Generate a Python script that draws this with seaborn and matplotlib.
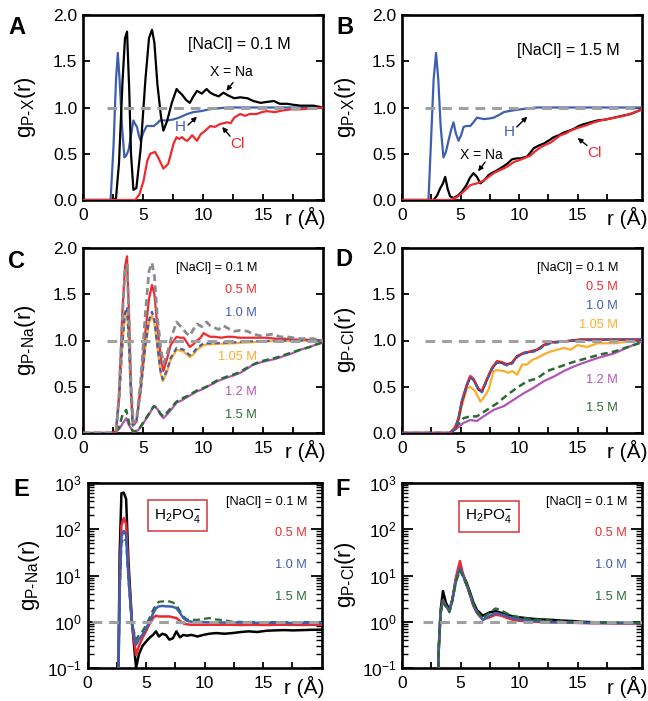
import numpy as np
import pandas as pd
import matplotlib
matplotlib.use("Agg")
import matplotlib.pyplot as plt
import seaborn as sns
from matplotlib.ticker import FixedLocator, LogLocator, NullFormatter, FormatStrFormatter

# ---------------- data ----------------
# Panel A  ([NaCl] = 0.1 M)
A_na_r = [0, 2.5, 2.75, 3.0, 3.3, 3.5, 3.67, 3.85, 4.0, 4.2, 4.45, 4.8, 5.2, 5.5, 5.75, 5.95, 6.2, 6.5, 6.7, 7.0, 7.4, 7.8, 8.0, 8.25, 8.6, 8.9, 9.2, 9.5, 9.9, 10.3, 10.6, 10.9, 11.3, 11.7, 12.1, 12.6, 13.1, 13.7, 14.2, 14.8, 15.3, 15.9, 16.4, 17.0, 17.5, 18.1, 18.6, 19.2, 20]
A_na_g = [0, 0, 0.02, 0.4, 1.3, 1.75, 1.82, 1.2, 0.5, 0.11, 0.13, 0.55, 1.3, 1.75, 1.84, 1.7, 1.25, 0.9, 0.75, 0.85, 1.05, 1.2, 1.17, 1.14, 1.08, 1.05, 1.12, 1.18, 1.15, 1.2, 1.16, 1.14, 1.12, 1.16, 1.13, 1.1, 1.11, 1.1, 1.07, 1.05, 1.06, 1.07, 1.04, 1.04, 1.03, 1.02, 1.02, 1.02, 1.0]
A_h_r = [0, 2.3, 2.55, 2.75, 2.9, 3.05, 3.25, 3.45, 3.6, 3.8, 4.0, 4.2, 4.35, 4.5, 4.65, 4.8, 5.0, 5.3, 5.6, 5.9, 6.2, 6.4, 7.0, 7.5, 8.0, 8.7, 9.2, 9.8, 10.5, 11.2, 12.0, 13.0, 20]
A_h_g = [0, 0, 0.6, 1.3, 1.59, 1.3, 0.8, 0.46, 0.48, 0.54, 0.7, 0.86, 0.82, 0.79, 0.7, 0.64, 0.72, 0.80, 0.80, 0.80, 0.83, 0.86, 0.86, 0.87, 0.89, 0.93, 0.95, 0.96, 0.98, 0.99, 1.0, 1.0, 1.0]
A_cl_r = [0, 4.35, 4.7, 5.05, 5.35, 5.6, 6.0, 6.3, 6.7, 7.1, 7.55, 7.8, 8.0, 8.25, 8.5, 8.7, 9.1, 9.5, 9.8, 10.2, 10.6, 11.0, 11.4, 12.0, 12.3, 12.6, 13.1, 13.5, 13.9, 14.5, 14.9, 15.3, 16.0, 16.7, 17.4, 18.1, 19.0, 20]
A_cl_g = [0, 0, 0.06, 0.21, 0.42, 0.5, 0.52, 0.45, 0.34, 0.39, 0.61, 0.68, 0.66, 0.68, 0.65, 0.64, 0.7, 0.64, 0.71, 0.75, 0.8, 0.79, 0.82, 0.84, 0.83, 0.89, 0.93, 0.91, 0.93, 0.93, 0.95, 0.96, 0.95, 0.97, 0.98, 0.98, 0.99, 1.0]

# Panel B  ([NaCl] = 1.5 M)
B_h_r = [0, 2.26, 2.5, 2.7, 2.91, 3.1, 3.3, 3.54, 3.75, 3.97, 4.2, 4.4, 4.6, 4.83, 5.05, 5.26, 5.5, 5.83, 6.1, 6.4, 6.97, 7.4, 7.83, 8.3, 8.69, 9.1, 9.54, 10.1, 10.69, 11.5, 12.4, 20.5]
B_h_g = [0, 0, 0.7, 1.3, 1.59, 1.3, 0.8, 0.46, 0.52, 0.64, 0.76, 0.84, 0.72, 0.64, 0.70, 0.79, 0.80, 0.80, 0.84, 0.89, 0.875, 0.88, 0.89, 0.92, 0.95, 0.96, 0.97, 0.98, 0.99, 1.0, 1.0, 1.0]
B_na_r = [0, 2.7, 3.0, 3.26, 3.5, 3.69, 3.9, 4.11, 4.4, 4.8, 5.11, 5.5, 5.8, 6.11, 6.4, 6.69, 7.0, 7.4, 7.8, 8.11, 8.5, 8.97, 9.4, 9.8, 10.11, 10.69, 11.26, 11.7, 12.11, 12.5, 12.97, 13.4, 13.83, 14.3, 14.69, 15.1, 15.54, 16.1, 16.69, 17.4, 18.11, 18.8, 19.54, 20.5]
B_na_g = [0, 0, 0.05, 0.125, 0.18, 0.25, 0.12, 0.04, 0.02, 0.05, 0.09, 0.16, 0.24, 0.29, 0.25, 0.18, 0.21, 0.27, 0.30, 0.32, 0.35, 0.39, 0.44, 0.45, 0.45, 0.47, 0.56, 0.59, 0.61, 0.64, 0.68, 0.70, 0.73, 0.75, 0.77, 0.80, 0.82, 0.84, 0.86, 0.87, 0.89, 0.91, 0.93, 0.98]
B_cl_r = [0, 4.11, 4.69, 5.26, 5.83, 6.1, 6.4, 6.97, 7.4, 7.83, 8.3, 8.69, 9.1, 9.54, 10.0, 10.4, 10.97, 11.4, 11.83, 12.3, 12.69, 13.1, 13.54, 14.0, 14.4, 14.8, 15.26, 15.8, 16.4, 17.0, 17.54, 18.2, 18.97, 19.7, 20.5]
B_cl_g = [0, 0, 0.03, 0.09, 0.16, 0.17, 0.18, 0.21, 0.25, 0.29, 0.32, 0.34, 0.37, 0.41, 0.43, 0.45, 0.48, 0.53, 0.57, 0.60, 0.62, 0.66, 0.70, 0.72, 0.75, 0.77, 0.79, 0.81, 0.84, 0.86, 0.875, 0.89, 0.91, 0.94, 0.98]

# Panel C  (g_P-Na vs [NaCl])
C_05_r = [0, 2.5, 2.75, 3.0, 3.3, 3.5, 3.67, 3.85, 4.0, 4.15, 4.45, 4.8, 5.2, 5.5, 5.75, 5.95, 6.2, 6.5, 6.7, 7.0, 7.3, 7.8, 8.1, 8.4, 8.65, 8.9, 9.2, 9.5, 9.8, 10.05, 10.3, 10.6, 11.0, 11.5, 12.0, 12.5, 13.0, 13.7, 14.5, 15.3, 16.0, 16.7, 17.5, 18.5, 20]
C_05_g = [0, 0, 0.02, 0.4, 1.35, 1.8, 1.91, 1.2, 0.5, 0.09, 0.12, 0.5, 1.1, 1.45, 1.60, 1.5, 1.15, 0.8, 0.67, 0.8, 0.95, 1.04, 1.03, 1.03, 0.98, 0.93, 0.96, 1.0, 1.03, 1.08, 1.06, 1.04, 1.04, 1.03, 1.04, 1.04, 1.03, 1.03, 1.03, 1.03, 1.02, 1.02, 1.01, 1.01, 1.0]
C_10_r = [0, 2.5, 2.75, 3.0, 3.3, 3.5, 3.67, 3.85, 4.0, 4.15, 4.45, 4.8, 5.2, 5.5, 5.75, 5.95, 6.2, 6.45, 6.65, 7.0, 7.3, 7.8, 8.1, 8.4, 8.65, 8.9, 9.2, 9.5, 10.05, 10.5, 10.9, 11.5, 12.5, 13.9, 15.0, 17.0, 20]
C_10_g = [0, 0, 0.02, 0.35, 1.0, 1.3, 1.36, 0.9, 0.4, 0.08, 0.12, 0.45, 0.95, 1.22, 1.31, 1.22, 0.95, 0.68, 0.58, 0.68, 0.81, 0.92, 0.91, 0.90, 0.87, 0.84, 0.87, 0.92, 0.97, 0.97, 0.97, 0.975, 0.98, 0.99, 0.995, 1.0, 1.0]
C_105_g = [0, 0, 0.02, 0.34, 0.98, 1.28, 1.34, 0.88, 0.39, 0.08, 0.12, 0.44, 0.93, 1.19, 1.27, 1.19, 0.92, 0.66, 0.56, 0.66, 0.79, 0.90, 0.89, 0.88, 0.85, 0.82, 0.85, 0.90, 0.95, 0.96, 0.96, 0.965, 0.97, 0.98, 0.99, 0.995, 1.0]
C_12_r = [0, 2.6, 3.0, 3.3, 3.6, 3.85, 4.2, 4.6, 5.0, 5.5, 5.9, 6.2, 6.45, 6.7, 7.0, 7.4, 7.8, 8.2, 8.7, 9.1, 9.5, 9.9, 10.3, 10.8, 11.2, 11.6, 12.0, 12.5, 13.1, 13.6, 14.2, 14.7, 15.3, 16.0, 16.7, 17.4, 18.1, 18.9, 19.5, 20]
C_12_g = [0, 0, 0.04, 0.1, 0.16, 0.08, 0.01, 0.03, 0.1, 0.2, 0.29, 0.26, 0.2, 0.16, 0.2, 0.26, 0.33, 0.35, 0.39, 0.42, 0.45, 0.47, 0.5, 0.53, 0.56, 0.58, 0.6, 0.62, 0.65, 0.69, 0.74, 0.76, 0.78, 0.8, 0.83, 0.86, 0.9, 0.93, 0.96, 0.98]
C_15_g = [0, 0, 0.06, 0.2, 0.25, 0.1, 0.01, 0.03, 0.11, 0.21, 0.29, 0.27, 0.21, 0.18, 0.22, 0.28, 0.34, 0.37, 0.4, 0.43, 0.46, 0.48, 0.5, 0.54, 0.57, 0.59, 0.61, 0.63, 0.66, 0.7, 0.74, 0.77, 0.79, 0.81, 0.84, 0.87, 0.9, 0.93, 0.96, 0.98]

# Panel D  (g_P-Cl vs [NaCl])
D_main_r = [0, 4.11, 4.54, 4.83, 5.11, 5.54, 5.83, 6.11, 6.54, 6.83, 7.26, 7.69, 8.11, 8.54, 8.97, 9.4, 9.83, 10.4, 10.97, 11.54, 12.11, 12.69, 13.83, 15.26, 18.11, 20.5]
D_01_g = [0, 0, 0.05, 0.16, 0.34, 0.52, 0.61, 0.58, 0.47, 0.45, 0.58, 0.70, 0.77, 0.76, 0.74, 0.76, 0.83, 0.865, 0.88, 0.90, 0.95, 0.98, 0.99, 1.01, 1.01, 1.01]
D_05_g = [0, 0, 0.05, 0.17, 0.35, 0.53, 0.62, 0.59, 0.48, 0.46, 0.59, 0.71, 0.78, 0.77, 0.74, 0.76, 0.83, 0.87, 0.88, 0.90, 0.95, 0.98, 0.99, 1.01, 1.01, 1.01]
D_10_g = [0, 0, 0.05, 0.16, 0.33, 0.51, 0.60, 0.57, 0.47, 0.44, 0.57, 0.69, 0.76, 0.75, 0.73, 0.75, 0.82, 0.86, 0.87, 0.89, 0.94, 0.97, 0.99, 1.0, 1.01, 1.01]
D_105_r = [0, 4.11, 4.83, 5.11, 5.54, 5.83, 6.26, 6.69, 6.97, 7.4, 7.83, 8.11, 8.69, 9.11, 9.4, 9.83, 10.26, 10.69, 11.11, 11.54, 12.11, 12.69, 13.26, 13.83, 14.4, 14.97, 15.83, 16.69, 18.11, 19.54, 20.5]
D_105_g = [0, 0, 0.13, 0.29, 0.48, 0.50, 0.45, 0.34, 0.38, 0.47, 0.67, 0.68, 0.67, 0.65, 0.67, 0.63, 0.74, 0.74, 0.79, 0.81, 0.85, 0.88, 0.90, 0.92, 0.90, 0.95, 0.93, 0.97, 0.97, 0.99, 1.01]
D_12_r = [0, 4.11, 4.7, 5.26, 5.83, 6.4, 6.97, 7.83, 8.69, 9.54, 10.4, 11.26, 12.11, 12.97, 13.83, 14.69, 15.54, 16.69, 18.11, 19.54, 20.5]
D_12_g = [0, 0, 0.05, 0.11, 0.14, 0.13, 0.18, 0.25, 0.29, 0.36, 0.43, 0.49, 0.56, 0.61, 0.67, 0.72, 0.76, 0.81, 0.86, 0.94, 0.99]
D_15_r = [0, 4.11, 4.7, 5.26, 5.83, 6.4, 7.26, 8.11, 8.97, 9.83, 10.69, 11.54, 12.4, 13.54, 14.69, 15.83, 16.97, 18.11, 19.54, 20.5]
D_15_g = [0, 0, 0.08, 0.16, 0.18, 0.18, 0.25, 0.32, 0.41, 0.49, 0.56, 0.59, 0.67, 0.72, 0.77, 0.81, 0.85, 0.88, 0.94, 0.98]

# Panel E  (H2PO4-, g_P-Na, log)
E_r = [0, 2.6, 2.75, 2.9, 3.1, 3.3, 3.5, 3.8, 4.15, 4.4, 4.7, 5.0, 5.3, 5.6, 5.85, 6.1, 6.4, 6.7, 7.0, 7.3, 7.6, 7.9, 8.2, 8.5, 8.9, 9.4, 9.9, 10.4, 11.0, 11.7, 12.4, 13.1, 13.8, 14.5, 15.3, 16.0, 16.8, 17.6, 18.4, 19.2, 20]
E_01_g = [0.01, 0.01, 30, 600, 620, 450, 20, 1.0, 0.1, 0.2, 0.3, 0.37, 0.45, 0.52, 0.62, 0.48, 0.55, 0.52, 0.41, 0.44, 0.62, 0.46, 0.52, 0.50, 0.52, 0.48, 0.52, 0.55, 0.57, 0.55, 0.57, 0.6, 0.62, 0.6, 0.64, 0.65, 0.66, 0.65, 0.66, 0.67, 0.67]
E_05_g = [0.01, 0.01, 8, 120, 175, 130, 12, 0.9, 0.19, 0.3, 0.45, 0.62, 0.9, 1.2, 1.35, 1.3, 1.3, 1.3, 1.3, 1.25, 1.2, 1.05, 0.92, 0.88, 0.86, 0.86, 0.86, 0.86, 0.86, 0.86, 0.86, 0.85, 0.86, 0.86, 0.85, 0.86, 0.86, 0.86, 0.85, 0.86, 0.86]
E_10_g = [0.01, 0.01, 5, 70, 92, 75, 9, 0.9, 0.32, 0.42, 0.52, 0.72, 1.0, 1.5, 1.95, 2.15, 2.2, 2.15, 2.15, 2.1, 1.97, 1.55, 1.2, 1.05, 1.0, 1.0, 0.98, 0.97, 0.97, 0.96, 0.96, 0.96, 0.95, 0.95, 0.95, 0.95, 0.94, 0.94, 0.94, 0.94, 0.94]
E_15_g = [0.01, 0.01, 4, 50, 66, 55, 8, 0.9, 0.41, 0.52, 0.62, 0.85, 1.2, 1.8, 2.3, 2.7, 2.75, 2.75, 2.75, 2.6, 2.3, 1.7, 1.3, 1.12, 1.1, 1.1, 1.15, 1.2, 1.12, 1.08, 1.0, 0.99, 0.99, 0.98, 0.98, 0.98, 0.98, 0.98, 0.98, 0.98, 0.98]

# Panel F  (H2PO4-, g_P-Cl, log)
F_r = [0, 3.0, 3.15, 3.3, 3.5, 3.75, 4.05, 4.3, 4.6, 4.95, 5.2, 5.5, 5.83, 6.1, 6.4, 6.9, 7.5, 8.0, 8.5, 9.0, 9.5, 10.0, 10.6, 11.3, 12.0, 12.8, 13.6, 14.5, 15.3, 16.2, 17.2, 18.5, 20.5]
F_01_g = [0.01, 0.01, 0.3, 1.8, 4.6, 2.6, 1.8, 3.0, 8.0, 15.5, 10.5, 7.2, 4.2, 2.6, 1.8, 1.35, 1.6, 1.7, 1.55, 1.4, 1.3, 1.25, 1.2, 1.15, 1.12, 1.1, 1.06, 1.04, 1.0, 0.98, 0.96, 0.95, 0.95]
F_05_g = [0.01, 0.01, 0.3, 1.6, 2.9, 2.2, 1.7, 3.0, 9.0, 20.5, 11, 6.5, 3.6, 2.2, 1.55, 1.12, 1.25, 1.42, 1.35, 1.2, 1.1, 1.05, 1.02, 1.0, 0.98, 0.97, 0.96, 0.95, 0.94, 0.93, 0.93, 0.92, 0.92]
F_10_g = [0.01, 0.01, 0.3, 1.6, 2.8, 2.2, 1.7, 2.9, 7.5, 14.5, 10, 6.5, 3.8, 2.3, 1.6, 1.1, 1.35, 1.55, 1.45, 1.3, 1.2, 1.12, 1.08, 1.04, 1.0, 0.98, 0.97, 0.96, 0.95, 0.94, 0.94, 0.93, 0.93]
F_15_g = [0.01, 0.01, 0.3, 1.5, 2.7, 2.1, 1.6, 2.8, 7.0, 13.0, 9.5, 6.3, 3.8, 2.4, 1.7, 1.2, 1.6, 1.95, 1.75, 1.5, 1.35, 1.25, 1.18, 1.12, 1.1, 1.06, 1.02, 1.0, 0.98, 0.97, 0.96, 0.95, 0.95]

conc_labels = ["[NaCl] = 0.1 M", "0.5 M", "1.0 M", "1.05 M", "1.2 M", "1.5 M"]

# ---------------- style ----------------
sns.set_theme(style="ticks")
plt.rcParams['font.family'] = ['Liberation Sans', 'DejaVu Sans']
plt.rcParams['mathtext.fontset'] = 'custom'
plt.rcParams['mathtext.rm'] = 'Liberation Sans'
plt.rcParams['mathtext.it'] = 'Liberation Sans:italic'
plt.rcParams['mathtext.bf'] = 'Liberation Sans:bold'
plt.rcParams['lines.scale_dashes'] = False
plt.rcParams['text.color'] = 'black'
plt.rcParams['xtick.color'] = 'black'
plt.rcParams['ytick.color'] = 'black'
plt.rcParams['xtick.labelcolor'] = 'black'
plt.rcParams['ytick.labelcolor'] = 'black'

BLACK = '#000000'; RED = '#ee2a2e'; BLUE = '#3f5fae'; ORANGE = '#fbad2c'
PURPLE = '#b355b3'; GREEN = '#2a6b34'; GRAY = '#a0a0a0'; MAROON = '#6a1030'

W, H = 648, 701
fig = plt.figure(figsize=(W / 100, H / 100), dpi=100)


def make_ax(l, r, t, b):
    return fig.add_axes([l / W, 1 - b / H, (r - l) / W, (b - t) / H])


def draw(ax, x, y, color, dash=None, lw=1.6, z=3):
    sns.lineplot(x=x, y=y, ax=ax, color=color, lw=lw, sort=False,
                 estimator=None, zorder=z)
    line = ax.lines[-1]
    if dash is not None:
        line.set_dashes(dash)
    return line


def style(ax, xmax, log=False):
    ax.set_xlim(0, xmax)
    for s in ax.spines.values():
        s.set_visible(True); s.set_linewidth(1.9); s.set_color('black')
    ax.xaxis.set_major_locator(FixedLocator([0, 5, 10, 15]))
    ax.xaxis.set_minor_locator(FixedLocator([2.5, 7.5, 12.5, 17.5]))
    ax.tick_params(axis='x', which='both', direction='in', length=4, width=1.3,
                   top=False, bottom=True, labelsize=12.5, pad=6,
                   colors='black', labelcolor='black')
    if log:
        ax.set_yscale('log'); ax.set_ylim(0.1, 1000)
        ax.yaxis.set_major_locator(LogLocator(base=10, numticks=10))
        ax.yaxis.set_minor_locator(LogLocator(base=10, subs=np.arange(2, 10), numticks=10))
        ax.yaxis.set_minor_formatter(NullFormatter())
        ax.tick_params(axis='y', which='major', direction='in', length=8, width=1.3,
                       left=True, right=True, labelsize=12.5, pad=4,
                       colors='black', labelcolor='black')
        ax.tick_params(axis='y', which='minor', direction='in', length=4, width=1.0,
                       left=True, right=True, colors='black')
    else:
        ax.set_ylim(0, 2)
        ax.yaxis.set_major_locator(FixedLocator([0, 0.5, 1, 1.5, 2]))
        ax.yaxis.set_major_formatter(FormatStrFormatter('%.1f'))
        ax.tick_params(axis='y', which='both', direction='in', length=5, width=1.3,
                       left=True, right=True, labelsize=12.5, pad=4,
                       colors='black', labelcolor='black')
    ax.set_xlabel(''); ax.set_ylabel('')
    ax.grid(False)


def refline(ax, x0, x1):
    ax.plot([x0, x1], [1, 1], color=GRAY, lw=2.2, dashes=(7, 5), zorder=6)


def rlabel(ax, xf, yf):
    ax.text(xf, yf, 'r (Å)', transform=ax.transAxes, ha='left', va='top',
            fontsize=15, color='black')


def arrow(ax, tail, head):
    ax.annotate('', xy=head, xytext=tail,
                arrowprops=dict(arrowstyle='-|>', color='black', lw=1.0,
                                mutation_scale=7, shrinkA=0, shrinkB=0))


# ---- Panel A ----
axA = make_ax(83, 323, 15, 200)
draw(axA, A_h_r, A_h_g, BLUE)
draw(axA, A_na_r, A_na_g, BLACK)
draw(axA, A_cl_r, A_cl_g, RED)
refline(axA, 2, 20)
style(axA, 20)
axA.text(13.0, 1.68, '[NaCl] = 0.1 M', ha='center', va='center', fontsize=11.5)
axA.text(12.4, 1.38, 'X = Na', ha='center', va='center', fontsize=10)
arrow(axA, (12.5, 1.27), (11.95, 1.18))
axA.text(8.1, 0.79, 'H', ha='center', va='center', fontsize=11, color=BLUE)
arrow(axA, (8.75, 0.81), (9.5, 0.90))
axA.text(12.9, 0.61, 'Cl', ha='center', va='center', fontsize=11, color=RED)
arrow(axA, (12.25, 0.69), (11.6, 0.79))
rlabel(axA, 0.84, -0.035)

# ---- Panel B ----
axB = make_ax(402, 642, 15, 200)
draw(axB, B_h_r, B_h_g, BLUE)
draw(axB, B_na_r, B_na_g, BLACK)
draw(axB, B_cl_r, B_cl_g, RED)
refline(axB, 2, 20.5)
style(axB, 20.5)
axB.text(14.2, 1.62, '[NaCl] = 1.5 M', ha='center', va='center', fontsize=11.5)
axB.text(9.2, 0.735, 'H', ha='center', va='center', fontsize=11, color=BLUE)
arrow(axB, (9.8, 0.79), (10.7, 0.90))
axB.text(6.75, 0.49, 'X = Na', ha='center', va='center', fontsize=10)
arrow(axB, (7.1, 0.41), (6.5, 0.31))
axB.text(16.4, 0.51, 'Cl', ha='center', va='center', fontsize=11, color=RED)
arrow(axB, (15.8, 0.59), (15.0, 0.67))
rlabel(axB, 0.855, -0.035)

# ---- Panel C ----
axC = make_ax(83, 323, 248, 433)
draw(axC, C_12_r, C_12_g, PURPLE)
draw(axC, C_12_r, C_15_g, GREEN, dash=(5, 3), lw=1.8)
draw(axC, C_10_r, C_105_g, ORANGE)
draw(axC, C_05_r, C_05_g, RED)
draw(axC, C_10_r, C_10_g, BLUE, dash=(3.5, 2.5), lw=1.6)
draw(axC, A_na_r, A_na_g, '#8c8c8c', dash=(5, 3), lw=2.0, z=4)
refline(axC, 2, 20)
style(axC, 20)
C_cols = [BLACK, RED, BLUE, ORANGE, PURPLE, GREEN]
C_ys = [1.78, 1.55, 1.30, 0.82, 0.44, 0.19]
for t, c, y in zip(conc_labels, C_cols, C_ys):
    axC.text(14.5, y, t, ha='right', va='center', fontsize=9.2, color=c)
rlabel(axC, 0.84, -0.035)

# ---- Panel D ----
axD = make_ax(402, 642, 248, 433)
draw(axD, D_12_r, D_12_g, PURPLE)
draw(axD, D_15_r, D_15_g, GREEN, dash=(5, 3), lw=1.8)
draw(axD, D_105_r, D_105_g, ORANGE)
draw(axD, D_main_r, D_01_g, MAROON, lw=1.8)
draw(axD, D_main_r, D_05_g, RED, lw=1.2)
draw(axD, D_main_r, D_10_g, BLUE, dash=(3.5, 2.5), lw=1.6)
refline(axD, 2, 20.5)
style(axD, 20.5)
D_ys = [1.78, 1.58, 1.376, 1.17, 0.57, 0.27]
for t, c, y in zip(conc_labels, C_cols, D_ys):
    axD.text(18.45, y, t, ha='right', va='center', fontsize=9.2, color=c)
rlabel(axD, 0.855, -0.035)

# ---- Panel E ----
axE = make_ax(87.5, 321.5, 483, 668)
axE.set_yscale('log')
draw(axE, E_r, E_01_g, BLACK, lw=1.8)
draw(axE, E_r, E_05_g, RED, lw=1.8)
draw(axE, E_r, E_15_g, GREEN, dash=(5, 3), lw=1.6)
draw(axE, E_r, E_10_g, BLUE, lw=1.8)
refline(axE, 0.4, 20)
style(axE, 20, log=True)
E_labels = ["[NaCl] = 0.1 M", "0.5 M", "1.0 M", "1.5 M"]
E_cols = [BLACK, RED, BLUE, GREEN]
E_ys = [0.897, 0.73, 0.557, 0.384]
for t, c, y in zip(E_labels, E_cols, E_ys):
    axE.text(0.938, y, t, transform=axE.transAxes, ha='right', va='center', fontsize=9.2, color=c)
axE.text(0.385, 0.824, r'H$_2$PO$_4^{\mathbf{-}}$', transform=axE.transAxes, ha='center', va='center',
         fontsize=11, bbox=dict(boxstyle='square,pad=0.4', fc='white', ec='#d8464b', lw=1.2))
rlabel(axE, 0.84, -0.045)

# ---- Panel F ----
axF = make_ax(402, 642, 483, 668)
axF.set_yscale('log')
draw(axF, F_r, F_01_g, BLACK, lw=1.8)
draw(axF, F_r, F_05_g, RED, lw=1.8)
draw(axF, F_r, F_10_g, BLUE, lw=1.8)
draw(axF, F_r, F_15_g, GREEN, dash=(5, 3), lw=1.6)
refline(axF, 1.8, 20.5)
style(axF, 20.5, log=True)
for t, c, y in zip(E_labels, E_cols, E_ys):
    axF.text(0.9375, y, t, transform=axF.transAxes, ha='right', va='center', fontsize=9.2, color=c)
axF.text(0.3625, 0.819, r'H$_2$PO$_4^{\mathbf{-}}$', transform=axF.transAxes, ha='center', va='center',
         fontsize=11, bbox=dict(boxstyle='square,pad=0.4', fc='white', ec='#d8464b', lw=1.2))
rlabel(axF, 0.855, -0.045)

# ---- y labels and panel letters ----
ylabs = [(25, 107, r'g$_{\mathregular{P\text{-}X}}$(r)'),
         (346, 107, r'g$_{\mathregular{P\text{-}X}}$(r)'),
         (25, 340, r'g$_{\mathregular{P\text{-}Na}}$(r)'),
         (346, 340, r'g$_{\mathregular{P\text{-}Cl}}$(r)'),
         (30, 575, r'g$_{\mathregular{P\text{-}Na}}$(r)'),
         (346, 575, r'g$_{\mathregular{P\text{-}Cl}}$(r)')]
for x, y, t in ylabs:
    fig.text(x / W, 1 - y / H, t, rotation=90, ha='center', va='center', fontsize=16, color='black')

letters = [(8, 27, 'A'), (336, 27, 'B'), (8, 262, 'C'), (335, 260, 'D'), (13, 490, 'E'), (335, 490, 'F')]
for x, y, t in letters:
    fig.text(x / W, 1 - y / H, t, ha='left', va='center', fontsize=17, fontweight='bold', color='black')

fig.savefig('out.png', dpi=100)
